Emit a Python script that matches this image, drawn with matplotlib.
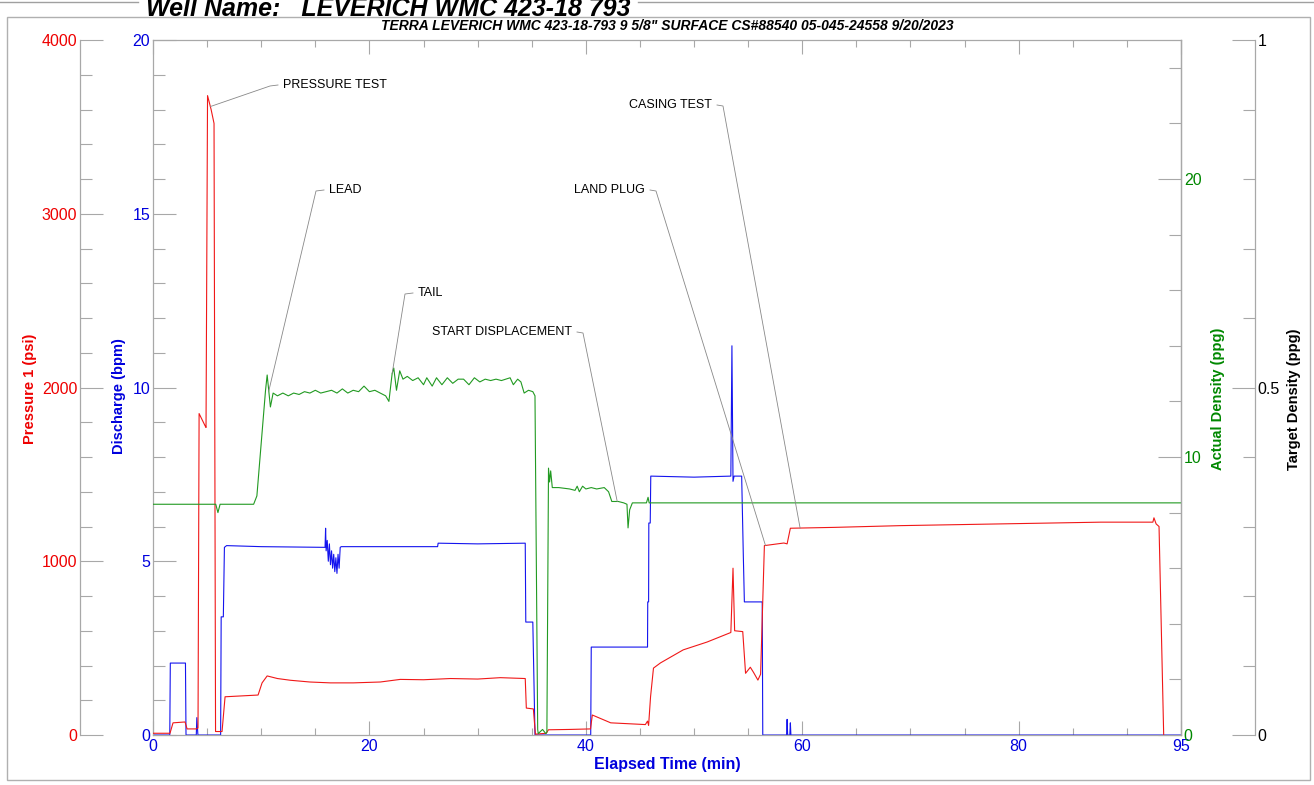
import matplotlib
matplotlib.use('Agg')  # no display
import matplotlib.pyplot as plt
import numpy as np
from matplotlib.ticker import MultipleLocator, FixedLocator, FormatStrFormatter
from matplotlib.patches import Rectangle
from matplotlib.lines import Line2D

plt.rcParams['font.family'] = ['Liberation Sans', 'DejaVu Sans']

# ---- data ----
# Pressure 1 (psi)
p_time = [0, 1.57, 1.85, 2.96, 3.15, 3.98, 4.16, 4.26, 4.81, 4.90,
          5.04, 5.37, 5.64, 5.78, 6.38, 6.66, 9.71, 10.08, 10.55, 11.5,
          12.7, 14.5, 16.4, 18.5, 21.0, 22.85, 25.0, 27.5, 30.0, 32.1,
          34.4, 34.5, 35.15, 35.34, 36.35, 36.54, 38.5, 40.43, 40.6, 42.3,
          45.5, 45.7, 45.8, 45.98, 46.25, 46.9, 49.0, 51.2, 53.4, 53.6,
          53.75, 54.5, 54.76, 55.2, 55.5, 55.9, 56.15, 56.5, 58.3, 58.6,
          58.9, 63.0, 69.1, 78.35, 87.6, 92.4, 92.5, 92.7, 92.97, 93.4]
p_psi = [10, 10, 70, 75, 35, 35, 40, 1850, 1780, 1770,
         3680, 3600, 3520, 20, 20, 220, 230, 300, 340, 325,
         315, 305, 300, 300, 305, 320, 318, 325, 322, 330,
         325, 155, 150, 5, 10, 30, 32, 35, 115, 70,
         60, 80, 55, 220, 385, 415, 490, 535, 590, 960,
         600, 595, 355, 390, 360, 316, 350, 1090, 1105, 1100,
         1190, 1195, 1205, 1215, 1225, 1225, 1250, 1215, 1200, 0]

# Discharge (bpm)
q_time = [0, 1.55, 1.6, 3.0, 3.05, 4.0, 4.05, 4.15, 6.25, 6.3,
          6.5, 6.6, 6.8, 10.0, 15.9, 15.95, 16.0, 16.1, 16.2, 16.3,
          16.4, 16.5, 16.6, 16.7, 16.8, 16.9, 17.0, 17.1, 17.2, 17.3,
          17.4, 20.0, 26.3, 26.35, 30.0, 34.4, 34.45, 35.1, 35.3, 40.45,
          40.5, 45.7, 45.72, 45.8, 45.82, 45.95, 46.0, 50.0, 53.4, 53.5,
          53.6, 53.7, 54.4, 54.55, 54.65, 56.3, 56.35, 58.55, 58.6, 58.65,
          58.85, 58.9, 58.95, 95]
q_bpm = [0, 0, 2.07, 2.07, 0, 0, 0.5, 0, 0, 3.4,
         3.4, 5.4, 5.45, 5.42, 5.4, 5.95, 5.3, 5.6, 5.0, 5.5,
         4.9, 5.3, 4.8, 5.2, 4.7, 5.1, 4.65, 5.2, 4.8, 5.4,
         5.42, 5.42, 5.42, 5.52, 5.5, 5.52, 3.25, 3.25, 0, 0,
         2.53, 2.53, 3.83, 3.83, 6.1, 6.1, 7.45, 7.42, 7.45, 11.2,
         7.3, 7.45, 7.45, 5.2, 3.83, 3.83, 0, 0, 0.45, 0,
         0, 0.35, 0, 0]

# Actual Density (ppg)
d_time = [0, 5.8, 6.0, 6.2, 9.3, 9.6, 10.0, 10.4, 10.55, 10.85,
          11.1, 11.5, 12.0, 12.5, 13.0, 13.5, 14.0, 14.5, 15.0, 15.5,
          16.0, 16.5, 17.0, 17.5, 18.0, 18.5, 19.0, 19.5, 20.0, 20.5,
          21.0, 21.5, 21.8, 22.1, 22.25, 22.5, 22.8, 23.1, 23.5, 24.0,
          24.5, 25.0, 25.3, 25.8, 26.2, 26.7, 27.2, 27.7, 28.2, 28.7,
          29.2, 29.7, 30.2, 30.7, 31.2, 31.7, 32.2, 32.6, 33.0, 33.3,
          33.7, 34.0, 34.3, 34.7, 35.1, 35.3, 35.55, 35.6, 36.0, 36.3,
          36.4, 36.55, 36.65, 36.75, 36.9, 37.5, 38.5, 39.0, 39.2, 39.4,
          39.7, 40.0, 40.5, 41.0, 41.7, 42.1, 42.4, 43.0, 43.5, 43.8,
          43.9, 44.05, 44.3, 45.6, 45.75, 45.85, 95]
d_ppg = [8.3, 8.3, 8.0, 8.3, 8.3, 8.6, 10.5, 12.4, 12.95, 11.8,
         12.3, 12.2, 12.3, 12.2, 12.3, 12.25, 12.35, 12.3, 12.4, 12.3,
         12.35, 12.4, 12.3, 12.45, 12.3, 12.4, 12.35, 12.55, 12.35, 12.4,
         12.3, 12.2, 12.0, 13.0, 13.2, 12.4, 13.1, 12.8, 12.9, 12.75,
         12.85, 12.6, 12.85, 12.55, 12.85, 12.6, 12.85, 12.65, 12.8, 12.8,
         12.6, 12.85, 12.7, 12.8, 12.75, 12.8, 12.75, 12.8, 12.85, 12.6,
         12.8, 12.7, 12.3, 12.4, 12.35, 12.2, 0.2, 0.05, 0.2, 0.05,
         0.1, 9.6, 9.1, 9.5, 8.9, 8.9, 8.85, 8.8, 8.95, 8.75,
         8.95, 8.85, 8.9, 8.85, 8.9, 8.75, 8.4, 8.4, 8.35, 8.3,
         7.45, 8.1, 8.35, 8.35, 8.55, 8.35, 8.35]

# job events (label, minute, trace it points at)
event_labels = ['PRESSURE TEST', 'LEAD', 'TAIL', 'START DISPLACEMENT',
                'LAND PLUG', 'CASING TEST']
event_times = [5.3, 10.7, 22.1, 42.9, 56.6, 59.8]
event_trace = ['p', 'd', 'd', 'd', 'p', 'p']

x_ticks = [0, 20, 40, 60, 80, 95]

title = 'Well Name:   LEVERICH WMC 423-18 793'
subtitle = 'TERRA LEVERICH WMC 423-18-793 9 5/8" SURFACE CS#88540 05-045-24558 9/20/2023'

# ---- styling ----
RED, BLUE, GREEN = '#f01818', '#1414ee', '#229a22'
RED_T, BLUE_T, GREEN_T = '#ee0000', '#0000dd', '#008800'
GRAY = '#a8a8a8'
W, H = 1314, 785


def fx(px):
    return px / W


def fy(py):
    return 1 - py / H


fig = plt.figure(figsize=(W / 100, H / 100), dpi=100)
ax = fig.add_axes([fx(153), fy(735), (1181 - 153) / W, 695 / H])
ax_p = ax.twinx()
ax_g = ax.twinx()
ax_t = ax.twinx()

ax.set_xlim(0, 95)
ax.set_ylim(0, 20)
ax_p.set_ylim(0, 4000)
ax_g.set_ylim(0, 25)
ax_t.set_ylim(0, 1)

# spines
for a in (ax, ax_p, ax_g, ax_t):
    for s in a.spines.values():
        s.set_color(GRAY)
        s.set_linewidth(0.9)
for s in ('right', 'top', 'bottom'):
    ax_p.spines[s].set_visible(False)
ax_p.spines['left'].set_visible(True)
ax_p.spines['left'].set_position(('outward', 52.6))
ax_p.yaxis.tick_left()
for s in ('left', 'top', 'bottom'):
    ax_g.spines[s].set_visible(False)
    ax_t.spines[s].set_visible(False)
ax_t.spines['right'].set_position(('outward', 53.3))

# ticks
ax.xaxis.set_major_locator(FixedLocator(x_ticks))
ax.xaxis.set_minor_locator(MultipleLocator(5))
ax.yaxis.set_major_locator(MultipleLocator(5))
ax.yaxis.set_minor_locator(MultipleLocator(1))
ax_p.yaxis.set_major_locator(MultipleLocator(1000))
ax_p.yaxis.set_minor_locator(MultipleLocator(200))
ax_g.yaxis.set_major_locator(FixedLocator([0, 10, 20]))
ax_g.yaxis.set_minor_locator(MultipleLocator(2))
ax_t.yaxis.set_major_locator(MultipleLocator(0.5))
ax_t.yaxis.set_minor_locator(MultipleLocator(0.1))
ax_t.yaxis.set_major_formatter(FormatStrFormatter('%g'))

ax.tick_params(axis='x', which='both', direction='in', top=True, bottom=True,
               color=GRAY, width=0.8, labelcolor=BLUE_T, labelsize=11.5, pad=3)
ax.tick_params(axis='x', which='major', length=10)
ax.tick_params(axis='x', which='minor', length=5)
for a, col in ((ax, BLUE_T), (ax_p, RED_T), (ax_g, GREEN_T), (ax_t, 'black')):
    a.tick_params(axis='y', which='both', direction='in', color=GRAY, width=0.8)
    a.tick_params(axis='y', which='major', length=16.5, labelcolor=col,
                  labelsize=11.5, pad=2)
    a.tick_params(axis='y', which='minor', length=8.6)

# traces
ax.plot(q_time, q_bpm, color=BLUE, lw=0.8)
ax_g.plot(d_time, d_ppg, color=GREEN, lw=0.8)
ax_p.plot(p_time, p_psi, color=RED, lw=0.8)

# axis titles
lab = dict(rotation=90, ha='center', va='center', fontsize=10.5, fontweight='bold')
fig.text(fx(30), fy(389), 'Pressure 1 (psi)', color=RED_T, **lab)
fig.text(fx(119), fy(396), 'Discharge (bpm)', color=BLUE_T, **lab)
fig.text(fx(1218), fy(399), 'Actual Density (ppg)', color=GREEN_T, **lab)
fig.text(fx(1294), fy(399), 'Target Density (ppg)', color='black', **lab)
fig.text(fx(667), fy(765), 'Elapsed Time (min)', color=BLUE_T, ha='center',
         va='center', fontsize=11.5, fontweight='bold')

# event callouts: text position (px), side of the leader stub
callout_pos = [(283, 85, 'left'), (329, 190, 'left'), (418, 293, 'left'),
               (572, 332, 'right'), (645, 190, 'right'), (712, 105, 'right')]
traces = {'p': (ax_p, p_time, p_psi), 'd': (ax_g, d_time, d_ppg)}
to_fig = fig.transFigure.inverted()
for name, t, key, (tx, ty, side) in zip(event_labels, event_times, event_trace, callout_pos):
    tax, tt, tv = traces[key]
    tgt = to_fig.transform(tax.transData.transform((t, np.interp(t, tt, tv))))
    if side == 'left':
        fig.text(fx(tx), fy(ty), name, ha='left', va='center', fontsize=9)
        s0, s1 = tx - 5, tx - 13
    else:
        fig.text(fx(tx), fy(ty), name, ha='right', va='center', fontsize=9)
        s0, s1 = tx + 5, tx + 11
    fig.add_artist(Line2D([fx(s0), fx(s1), tgt[0]], [fy(ty), fy(ty + 1), tgt[1]],
                          color='#888888', lw=0.6))

# page furniture
fig.add_artist(Rectangle((fx(7), fy(780)), (1310 - 7) / W, (780 - 17) / H,
                         transform=fig.transFigure, fill=False,
                         edgecolor='#b0b0b0', lw=1))
fig.add_artist(Line2D([0, fx(138)], [fy(2), fy(2)], color='#a0a0a0', lw=1))
fig.add_artist(Line2D([fx(638), 1], [fy(2), fy(2)], color='#a0a0a0', lw=1))
fig.text(fx(388), fy(16), title, ha='center', va='baseline', fontsize=18,
         fontweight='bold', fontstyle='italic')
fig.text(fx(667), fy(30), subtitle, ha='center', va='baseline', fontsize=10,
         fontweight='bold', fontstyle='italic')

fig.savefig('out.png', dpi=100)
